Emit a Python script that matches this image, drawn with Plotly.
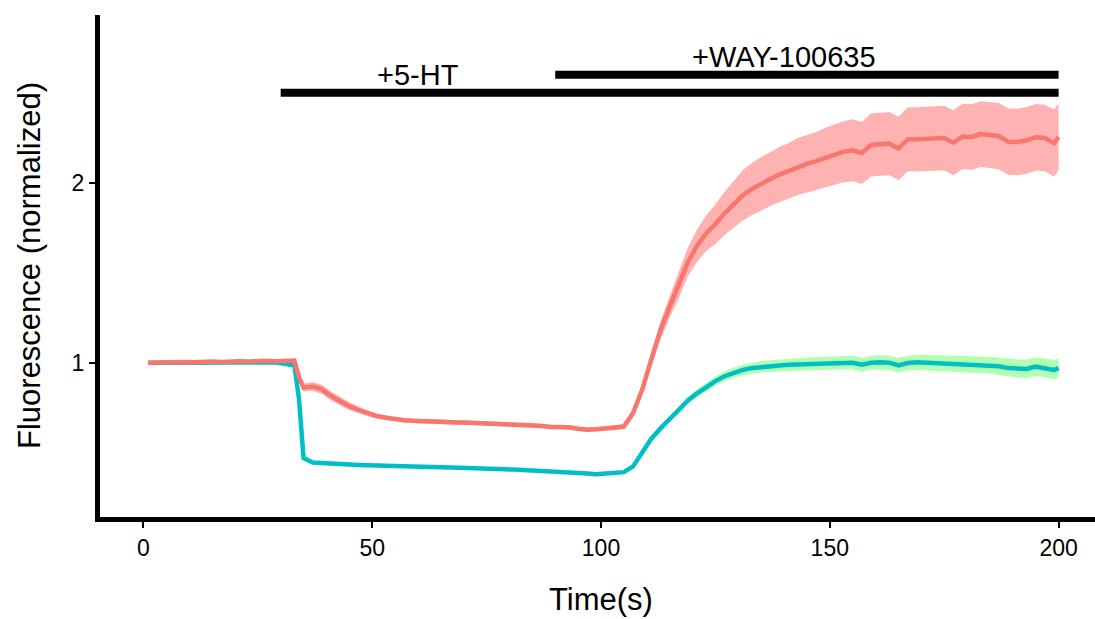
import numpy as np
import plotly.graph_objects as go

# ---- data ----
time_s = [1, 3, 5, 7, 9, 11, 13, 15, 17, 19, 21, 23, 25, 27, 29, 31, 33, 34, 35, 37, 39, 41, 43, 45,
          47, 49, 51, 53, 55, 57, 59, 61, 63, 65, 67, 69, 71, 73, 75, 77, 79, 81, 83, 85, 87, 89,
          91, 93, 95, 97, 99, 101, 103, 105, 107, 109, 111, 113, 115, 117, 119, 121, 123, 125,
          127, 129, 131, 133, 135, 137, 139, 141, 143, 145, 147, 149, 151, 153, 155, 157, 159,
          161, 163, 165, 167, 169, 171, 173, 175, 177, 179, 181, 183, 185, 187, 189, 191, 193,
          195, 197, 199, 200]

red_mean = [1.000, 1.002, 1.001, 1.003, 1.004, 1.002, 1.005, 1.006, 1.004, 1.007, 1.008, 1.006,
            1.009, 1.011, 1.008, 1.010, 1.012, 0.920, 0.862, 0.868, 0.852, 0.815, 0.785, 0.758,
            0.738, 0.718, 0.704, 0.694, 0.686, 0.680, 0.677, 0.674, 0.673, 0.671, 0.669, 0.668,
            0.667, 0.665, 0.664, 0.662, 0.658, 0.657, 0.654, 0.655, 0.648, 0.643, 0.645, 0.641,
            0.633, 0.628, 0.630, 0.635, 0.637, 0.645, 0.720, 0.850, 1.020, 1.180, 1.310, 1.430,
            1.560, 1.650, 1.720, 1.770, 1.830, 1.880, 1.930, 1.965, 1.995, 2.020, 2.045, 2.065,
            2.090, 2.105, 2.120, 2.140, 2.155, 2.172, 2.180, 2.165, 2.210, 2.214, 2.217, 2.190,
            2.240, 2.241, 2.243, 2.244, 2.248, 2.222, 2.257, 2.254, 2.270, 2.265, 2.258, 2.228,
            2.226, 2.235, 2.252, 2.248, 2.220, 2.254]

red_err = [0.008, 0.008, 0.008, 0.008, 0.008, 0.008, 0.008, 0.008, 0.008, 0.008, 0.008, 0.008,
           0.008, 0.008, 0.008, 0.008, 0.008, 0.015, 0.022, 0.025, 0.025, 0.025, 0.024, 0.022,
           0.018, 0.015, 0.013, 0.012, 0.012, 0.012, 0.012, 0.012, 0.012, 0.012, 0.012, 0.012,
           0.012, 0.012, 0.012, 0.012, 0.012, 0.012, 0.012, 0.012, 0.012, 0.012, 0.012, 0.012,
           0.012, 0.012, 0.012, 0.012, 0.012, 0.014, 0.020, 0.030, 0.040, 0.050, 0.060, 0.070,
           0.080, 0.090, 0.100, 0.110, 0.120, 0.130, 0.140, 0.145, 0.148, 0.150, 0.153, 0.155,
           0.158, 0.160, 0.162, 0.165, 0.167, 0.170, 0.172, 0.172, 0.175, 0.175, 0.176, 0.176,
           0.178, 0.178, 0.179, 0.180, 0.180, 0.180, 0.181, 0.182, 0.183, 0.183, 0.184, 0.184,
           0.185, 0.185, 0.185, 0.185, 0.186, 0.186]

teal_mean = [1.000, 0.999, 0.999, 1.000, 1.000, 1.001, 1.000, 1.001, 1.002, 1.001, 1.002, 1.003,
             1.002, 1.002, 1.001, 0.990, 0.985, 0.800, 0.470, 0.445, 0.441, 0.438, 0.436, 0.434,
             0.432, 0.430, 0.428, 0.427, 0.426, 0.425, 0.424, 0.422, 0.421, 0.419, 0.418, 0.417,
             0.414, 0.413, 0.412, 0.410, 0.408, 0.406, 0.404, 0.402, 0.401, 0.399, 0.397, 0.395,
             0.392, 0.385, 0.380, 0.382, 0.386, 0.392, 0.424, 0.500, 0.578, 0.635, 0.688, 0.735,
             0.790, 0.830, 0.865, 0.898, 0.925, 0.945, 0.960, 0.970, 0.977, 0.981, 0.985, 0.988,
             0.990, 0.993, 0.995, 0.996, 0.999, 1.002, 1.000, 0.989, 1.000, 1.002, 1.000, 0.985,
             0.998, 1.002, 1.000, 0.998, 0.996, 0.995, 0.993, 0.990, 0.988, 0.986, 0.980, 0.970,
             0.968, 0.965, 0.978, 0.972, 0.960, 0.970]

teal_err = [0.004, 0.004, 0.004, 0.004, 0.004, 0.004, 0.004, 0.004, 0.004, 0.004, 0.004, 0.004,
            0.004, 0.004, 0.004, 0.004, 0.004, 0.004, 0.004, 0.004, 0.004, 0.004, 0.004, 0.004,
            0.004, 0.004, 0.004, 0.004, 0.004, 0.004, 0.004, 0.004, 0.004, 0.004, 0.004, 0.004,
            0.004, 0.004, 0.004, 0.004, 0.004, 0.004, 0.004, 0.004, 0.004, 0.004, 0.004, 0.004,
            0.004, 0.004, 0.004, 0.004, 0.004, 0.005, 0.008, 0.010, 0.012, 0.014, 0.016, 0.018,
            0.020, 0.022, 0.024, 0.026, 0.028, 0.029, 0.030, 0.031, 0.032, 0.033, 0.034, 0.035,
            0.035, 0.036, 0.036, 0.037, 0.037, 0.038, 0.038, 0.039, 0.039, 0.040, 0.040, 0.041,
            0.041, 0.042, 0.042, 0.043, 0.043, 0.044, 0.045, 0.045, 0.046, 0.047, 0.048, 0.049,
            0.050, 0.051, 0.052, 0.053, 0.054, 0.055]

bar_start = [30, 90]
bar_end = [200, 200]
bar_level = [2.5, 2.6]
label_text = ["+5-HT", "+WAY-100635"]
label_x = [60, 140]
label_y = [2.6, 2.7]

x_ticks = [0, 50, 100, 150, 200]
y_ticks = [1, 2]

RED = "#F8766D"
TEAL = "#00BFC4"
FONT = "Liberation Sans, Arial, sans-serif"

t = np.array(time_s)
rm, re_ = np.array(red_mean), np.array(red_err)
tm, te = np.array(teal_mean), np.array(teal_err)

fig = go.Figure()

# ribbons
for mean, err, fill in [(tm, te, "rgba(0,255,0,0.3)"), (rm, re_, "rgba(255,0,0,0.3)")]:
    fig.add_trace(go.Scatter(x=t, y=mean + err, mode="lines", line=dict(width=0),
                             showlegend=False, hoverinfo="skip"))
    fig.add_trace(go.Scatter(x=t, y=mean - err, mode="lines", line=dict(width=0),
                             fill="tonexty", fillcolor=fill, showlegend=False, hoverinfo="skip"))

# mean lines
fig.add_trace(go.Scatter(x=t, y=tm, mode="lines", line=dict(color=TEAL, width=4.5),
                         showlegend=False))
fig.add_trace(go.Scatter(x=t, y=rm, mode="lines", line=dict(color=RED, width=4.5),
                         showlegend=False))

# treatment bars
for xs, xe, yl in zip(bar_start, bar_end, bar_level):
    fig.add_trace(go.Scatter(x=[xs, xe], y=[yl, yl], mode="lines",
                             line=dict(color="black", width=8), showlegend=False))

annotations = []
for txt, lx, ly in zip(label_text, label_x, label_y):
    annotations.append(dict(x=lx, y=ly, xref="x", yref="y", text=txt, showarrow=False,
                            font=dict(family=FONT, size=29, color="black"),
                            xanchor="center", yanchor="middle"))
# axis titles
annotations.append(dict(x=100, y=0, xref="x", yref="paper", text="Time(s)", showarrow=False,
                        font=dict(family=FONT, size=31, color="black"),
                        xanchor="center", yanchor="middle", yshift=-82))
annotations.append(dict(x=0, y=0.5, xref="paper", yref="paper", text="Fluorescence (normalized)",
                        showarrow=False, textangle=-90,
                        font=dict(family=FONT, size=31, color="black"),
                        xanchor="center", yanchor="middle", xshift=-71))

L, R, T, B = 100, 0, 15, 102
W, H = 1095, 619
px_per_x = 4.576
px_per_y = 180.0
x0 = (L - 143.4) / px_per_x
x1 = x0 + (W - L - R) / px_per_x
y0 = 1 - ((H - B) - 362.7) / px_per_y
y1 = y0 + (H - B - T) / px_per_y

fig.update_layout(
    width=W, height=H,
    margin=dict(l=L, r=R, t=T, b=B),
    paper_bgcolor="white", plot_bgcolor="white",
    showlegend=False,
    annotations=annotations,
    xaxis=dict(range=[x0, x1], tickvals=x_ticks, ticktext=[str(v) for v in x_ticks],
               showgrid=False, zeroline=False, showline=True, linecolor="black", linewidth=5,
               ticks="outside", ticklen=6, tickwidth=1.5, tickcolor="black",
               tickfont=dict(family=FONT, size=23, color="black")),
    yaxis=dict(range=[y0, y1], tickvals=y_ticks, ticktext=[str(v) for v in y_ticks],
               showgrid=False, zeroline=False, showline=True, linecolor="black", linewidth=5,
               ticks="outside", ticklen=6, tickwidth=1.5, tickcolor="black",
               tickfont=dict(family=FONT, size=23, color="black")),
)

fig.write_html("out.html", config={"displayModeBar": False},
               post_script="document.body.style.margin='0px';")
